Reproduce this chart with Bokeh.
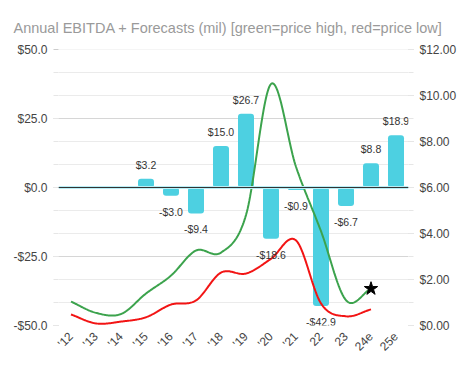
import math
import numpy as np
from bokeh.plotting import figure
from bokeh.models import Range1d, LinearAxis, FixedTicker, Span, ColumnDataSource, LabelSet
from bokeh.core.properties import value
from bokeh.embed import file_html
from bokeh.resources import INLINE

# ---- data ----
years = ["'12", "'13", "'14", "'15", "'16", "'17", "'18", "'19", "'20", "'21", "22", "23", "24e", "25e"]
ebitda = [None, None, None, 3.2, -3.0, -9.4, 15.0, 26.7, -18.6, -0.9, -42.9, -6.7, 8.8, 18.9]
price_high = [1.04, 0.55, 0.50, 1.39, 2.17, 3.26, 3.17, 4.8, 10.5, 6.9, 4.1, 1.1, 1.6]
price_low = [0.48, 0.09, 0.17, 0.36, 0.91, 1.09, 2.3, 2.26, 2.9, 3.7, 0.96, 0.4, 0.7]
star_year = "24e"
star_price = 1.6
left_ticks = [-50, -25, 0, 25, 50]
right_ticks = [0, 2, 4, 6, 8, 10, 12]

BAR = "#4dd0e1"
GREEN = "#3ca34d"
RED = "#f21414"
FONT = "Liberation Sans"


def smooth(ys, n=30):
    """Catmull-Rom style cubic Hermite curve through the yearly points."""
    xs_out, ys_out = [], []
    m = len(ys)
    tang = []
    for i in range(m):
        if i == 0:
            t = ys[1] - ys[0]
        elif i == m - 1:
            t = ys[-1] - ys[-2]
        else:
            t = (ys[i + 1] - ys[i - 1]) / 2.0
        tang.append(t)
    for i in range(m - 1):
        for k in range(n):
            s = k / n
            h00 = 2 * s**3 - 3 * s**2 + 1
            h10 = s**3 - 2 * s**2 + s
            h01 = -2 * s**3 + 3 * s**2
            h11 = s**3 - s**2
            xs_out.append(i + s)
            ys_out.append(h00 * ys[i] + h10 * tang[i] + h01 * ys[i + 1] + h11 * tang[i + 1])
    xs_out.append(m - 1)
    ys_out.append(ys[-1])
    return xs_out, ys_out


p = figure(
    width=466, height=363,
    x_range=Range1d(-0.5, len(years) - 0.5),
    y_range=Range1d(-50, 50),
    output_backend="svg", toolbar_location=None,
    min_border_left=58, min_border_right=58, min_border_top=49, min_border_bottom=38,
    title="Annual EBITDA + Forecasts (mil) [green=price high, red=price low]",
)
p.extra_y_ranges = {"price": Range1d(0, 12)}
p.outline_line_color = None
p.background_fill_color = "white"
p.border_fill_color = "white"

p.title.text_font = FONT
p.title.text_font_size = "14.5px"
p.title.text_font_style = "normal"
p.title.text_color = "#9a9a9a"
p.title.align = "left"
p.title.offset = -45
p.title.standoff = 28

# grids
p.xgrid.grid_line_color = None
minor_left = [v for v in np.arange(-50, 50.01, 25 / 3.0)]
p.yaxis.ticker = FixedTicker(ticks=left_ticks, minor_ticks=minor_left)
p.ygrid.grid_line_color = "#d6d6d6"
p.ygrid.minor_grid_line_color = "#ebebeb"

# left axis
ya = p.yaxis[0]
ya.axis_line_color = None
ya.major_tick_in = 0
ya.major_tick_out = 5
ya.minor_tick_in = 0
ya.minor_tick_out = 5
ya.major_tick_line_color = "#cccccc"
ya.minor_tick_line_color = "#e6e6e6"
ya.major_label_standoff = 6
ya.major_label_text_font = FONT
ya.major_label_text_font_size = "12px"
ya.major_label_text_color = "#444444"
ya.major_label_overrides = {v: ("-$%.1f" % abs(v) if v < 0 else "$%.1f" % v) for v in left_ticks}

# right axis
ra = LinearAxis(y_range_name="price",
                ticker=FixedTicker(ticks=right_ticks, minor_ticks=list(range(0, 13))))
ra.axis_line_color = None
ra.major_tick_in = 0
ra.major_tick_out = 5
ra.minor_tick_in = 0
ra.minor_tick_out = 5
ra.major_tick_line_color = "#cccccc"
ra.minor_tick_line_color = "#e6e6e6"
ra.major_label_standoff = 6
ra.major_label_text_font = FONT
ra.major_label_text_font_size = "12px"
ra.major_label_text_color = "#444444"
ra.major_label_overrides = {v: "$%.2f" % v for v in right_ticks}
p.add_layout(ra, "right")

# x axis
xa = p.xaxis[0]
xa.ticker = FixedTicker(ticks=list(range(len(years))))
xa.major_label_overrides = {i: y for i, y in enumerate(years)}
xa.major_label_orientation = math.pi / 4
xa.axis_line_color = None
xa.major_tick_in = 0
xa.major_tick_out = 0
xa.minor_tick_line_color = None
xa.major_label_standoff = 9
xa.major_label_text_font = FONT
xa.major_label_text_font_size = "12px"
xa.major_label_text_color = "#444444"

# bars
idx = list(range(len(years)))
tops = [np.nan if v is None else v for v in ebitda]
src = ColumnDataSource(dict(x=idx, top=tops))
p.vbar(x="x", top="top", bottom=0, width=0.64, source=src, fill_color=BAR,
       line_color=None, border_radius=3)

# zero line
p.add_layout(Span(location=0, dimension="width", line_color="#b9eef5", line_width=3))
p.add_layout(Span(location=0, dimension="width", line_color="#333333", line_width=1))

# bar labels
pos_x = [i for i, v in zip(idx, ebitda) if v is not None and v >= 0]
pos_y = [v for v in ebitda if v is not None and v >= 0]
neg_x = [i for i, v in zip(idx, ebitda) if v is not None and v < 0]
neg_y = [v for v in ebitda if v is not None and v < 0]
pos_src = ColumnDataSource(dict(x=pos_x, y=pos_y, t=["$%.1f" % v for v in pos_y]))
neg_src = ColumnDataSource(dict(x=neg_x, y=neg_y, t=["-$%.1f" % abs(v) for v in neg_y]))
p.add_layout(LabelSet(x="x", y="y", text="t", source=pos_src, text_align="center",
                      text_baseline="bottom", y_offset=8, text_font=value(FONT),
                      text_font_size=value("10.5px"), text_color="#333333"))
p.add_layout(LabelSet(x="x", y="y", text="t", source=neg_src, text_align="center",
                      text_baseline="top", y_offset=-10, text_font=value(FONT),
                      text_font_size=value("10.5px"), text_color="#333333"))

# price lines
gx, gy = smooth(price_high)
rx, ry = smooth(price_low)
p.line(gx, gy, y_range_name="price", line_color=GREEN, line_width=2)
p.line(rx, ry, y_range_name="price", line_color=RED, line_width=2)

# forecast star
p.scatter([years.index(star_year)], [star_price], y_range_name="price", marker="star",
          size=14, fill_color="black", line_color="black")

open("out.html", "w").write(file_html(p, INLINE))
